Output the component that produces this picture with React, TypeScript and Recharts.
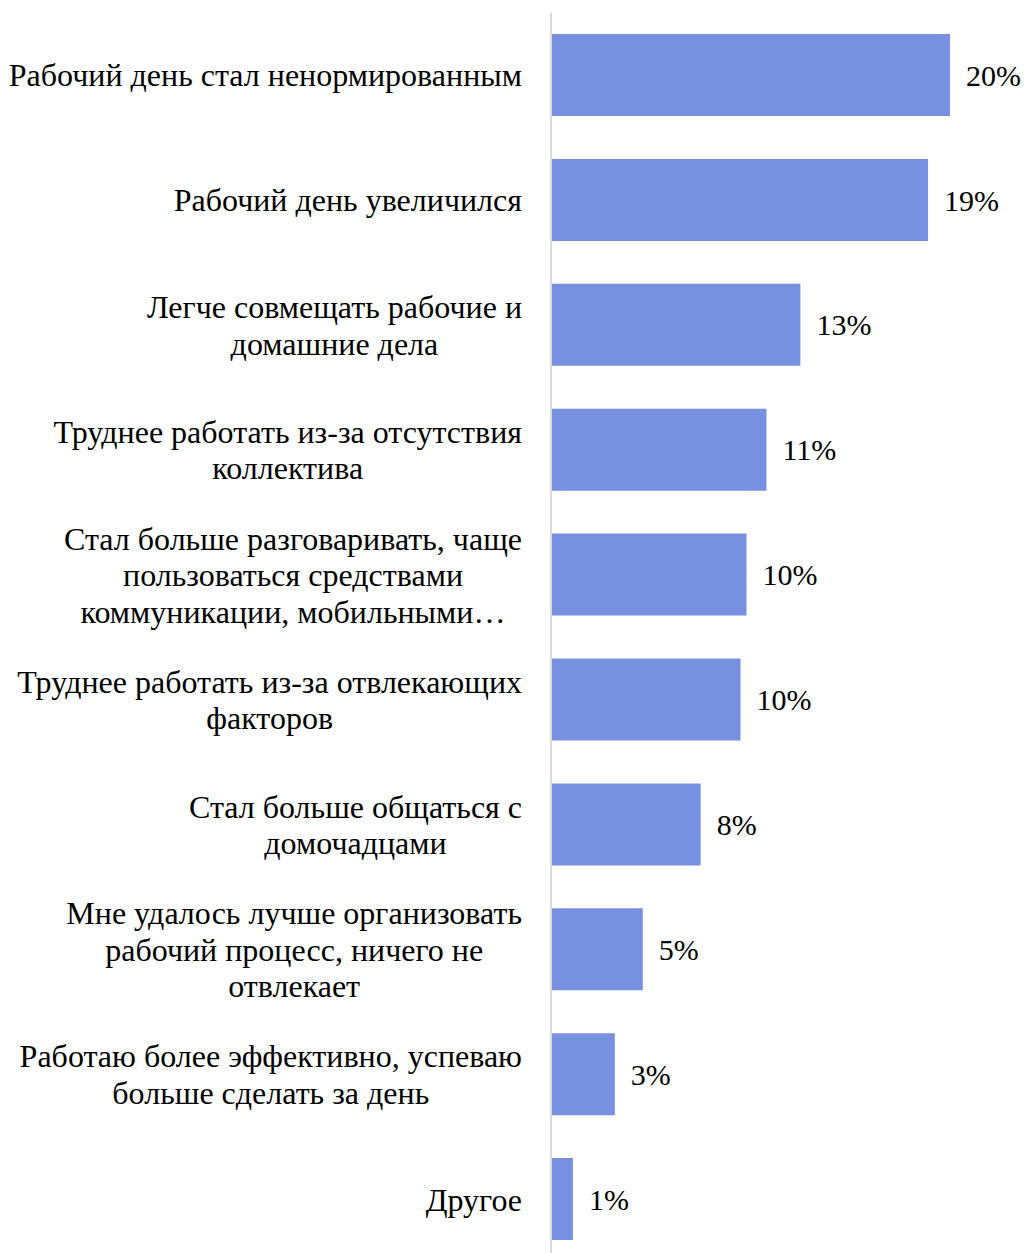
import { Bar, BarChart, LabelList, XAxis, YAxis } from 'recharts';

const categories = [
  'Рабочий день стал ненормированным',
  'Рабочий день увеличился',
  'Легче совмещать рабочие и\nдомашние дела',
  'Труднее работать из-за отсутствия\nколлектива',
  'Стал больше разговаривать, чаще\nпользоваться средствами\nкоммуникации, мобильными…',
  'Труднее работать из-за отвлекающих\nфакторов',
  'Стал больше общаться с\nдомочадцами',
  'Мне удалось лучше организовать\nрабочий процесс, ничего не\nотвлекает',
  'Работаю более эффективно, успеваю\nбольше сделать за день',
  'Другое',
];
const values = [20, 18.9, 12.5, 10.8, 9.8, 9.5, 7.5, 4.6, 3.2, 1.1];
const valueLabels = ['20%', '19%', '13%', '11%', '10%', '10%', '8%', '5%', '3%', '1%'];

const FONT = "'Liberation Serif', 'Times New Roman', serif";
const FONT_SIZE = 32;
const LINE_H = 36.5;

const data = categories.map((name, i) => ({ name, value: values[i], label: valueLabels[i] }));

let ctx: CanvasRenderingContext2D | null = null;
function textWidth(s: string) {
  if (!ctx) ctx = document.createElement('canvas').getContext('2d');
  if (!ctx) return s.length * FONT_SIZE * 0.5;
  ctx.font = `${FONT_SIZE}px ${FONT}`;
  return ctx.measureText(s).width;
}

// multi-line label: lines centred on each other, block right-aligned to the axis
function CategoryTick(props: any) {
  const { x, y, payload } = props;
  const lines: string[] = String(payload.value).split('\n');
  const maxW = Math.max(...lines.map(textWidth));
  const cx = x - maxW / 2;
  const y0 = y - ((lines.length - 1) * LINE_H) / 2;
  return (
    <g>
      {lines.map((l, i) => (
        <text
          key={i}
          x={cx}
          y={y0 + i * LINE_H}
          textAnchor="middle"
          dominantBaseline="central"
          fontFamily={FONT}
          fontSize={FONT_SIZE}
          fill="#000"
        >
          {l}
        </text>
      ))}
    </g>
  );
}

export default function App() {
  return (
    <div style={{ position: 'absolute', left: 0, top: 0, background: '#fff' }}>
      <BarChart
        width={1024}
        height={1262}
        data={data}
        layout="vertical"
        margin={{ top: 13, right: 74, bottom: 0, left: 0 }}
      >
        <XAxis type="number" domain={[0, 20]} hide />
        <YAxis
          type="category"
          dataKey="name"
          width={551}
          tickLine={false}
          tickSize={0}
          tickMargin={29}
          axisLine={{ stroke: '#d9d9d9', strokeWidth: 2 }}
          tick={<CategoryTick />}
          interval={0}
        />
        <Bar dataKey="value" fill="#7790E0" barSize={82} isAnimationActive={false}>
          <LabelList
            dataKey="label"
            position="right"
            offset={16}
            style={{ fontFamily: FONT, fontSize: 30, fill: '#000' }}
          />
        </Bar>
      </BarChart>
    </div>
  );
}
